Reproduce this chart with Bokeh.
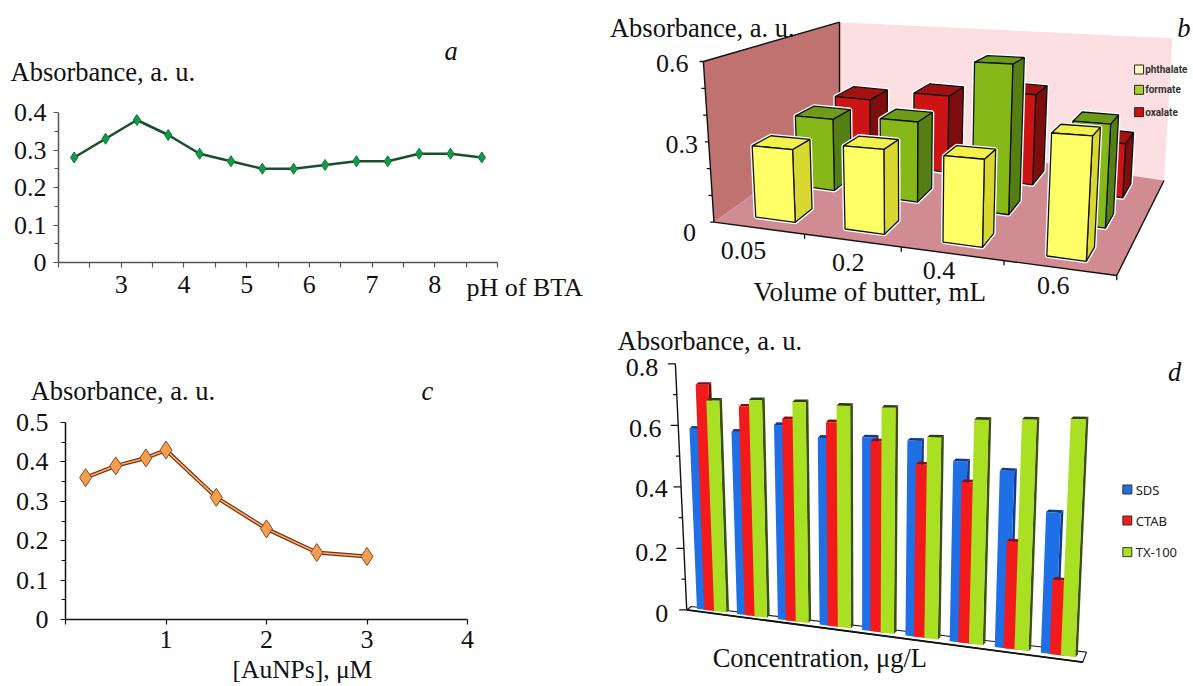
from bokeh.plotting import figure
from bokeh.layouts import column, row
from bokeh.models import Range1d, FixedTicker
from bokeh.core.properties import value
from bokeh.embed import file_html
from bokeh.resources import INLINE

SERIF = "Liberation Serif"

# ---------- data ----------
a_x = [2.25, 2.75, 3.25, 3.75, 4.25, 4.75, 5.25, 5.75, 6.25, 6.75, 7.25, 7.75, 8.25, 8.75]
a_y = [0.28, 0.33, 0.38, 0.34, 0.29, 0.27, 0.25, 0.25, 0.26, 0.27, 0.27, 0.29, 0.29, 0.28]
c_x = [0.2, 0.5, 0.8, 1, 1.5, 2, 2.5, 3]
c_y = [0.36, 0.39, 0.41, 0.43, 0.31, 0.23, 0.17, 0.16]

b_volumes = ["0.05", "0.2", "0.4", "0.6"]
b_phthalate = [0.27, 0.30, 0.296, 0.40]
b_formate = [0.297, 0.317, 0.565, 0.369]
b_oxalate = [0.29, 0.34, 0.378, 0.214]

d_sds = [0.586, 0.58, 0.604, 0.568, 0.573, 0.567, 0.512, 0.491, 0.383]
d_ctab = [0.729, 0.66, 0.623, 0.616, 0.562, 0.499, 0.454, 0.296, 0.201]
d_tx = [0.678, 0.681, 0.676, 0.666, 0.662, 0.578, 0.631, 0.634, 0.637]

TITLE = 26.5
TICK = 26


def txt(p, text, x, y, size, align="left", style="normal", font=SERIF, color="#111111"):
    p.text([x], [y], text=[text], text_font=value(font), text_font_size=f"{size}px",
           text_align=align, text_baseline="middle", text_font_style=style, text_color=color)


def line_panel(w, h, y_page, box, xb, yb, axis_color):
    """Frame fills the panel; ranges are chosen so the axes sit at box = (left, right, top, bottom) page pixels."""
    l, r, t, b = box
    kx = (xb[1] - xb[0]) / (r - l)
    ky = (yb[1] - yb[0]) / (b - t)
    xr = (xb[0] - l * kx, xb[0] + (w - l) * kx)
    yr = (yb[0] - (y_page + h - b) * ky, yb[0] + (b - y_page) * ky)
    p = figure(width=w, height=h, x_range=Range1d(*xr), y_range=Range1d(*yr), toolbar_location=None,
               output_backend="svg", min_border=0, outline_line_color=None,
               background_fill_color="white", border_fill_color="white", frame_align=False)
    p.grid.visible = False
    p.xaxis[0].fixed_location = yb[0]
    p.yaxis[0].fixed_location = xb[0]
    p.xaxis[0].bounds = xb
    p.yaxis[0].bounds = yb
    for ax in (p.xaxis[0], p.yaxis[0]):
        ax.axis_line_color = axis_color
        ax.axis_line_width = 1.5
        ax.major_tick_line_color = axis_color
        ax.minor_tick_line_color = axis_color
        ax.major_tick_line_width = 1.2
        ax.minor_tick_line_width = 1.2
        ax.major_tick_in = 0
        ax.minor_tick_in = 0
        ax.major_tick_out = 5
        ax.minor_tick_out = 4
        ax.major_label_text_font = SERIF
        ax.major_label_text_font_size = f"{TICK}px"
        ax.major_label_text_color = "#111111"

    def to_data(px, py):
        return xb[0] + (px - l) * kx, yb[0] + (b - py) * ky

    return p, to_data


def page_text(p, to_data, text, px, py, size=TITLE, style="normal"):
    x, y = to_data(px, py)
    txt(p, text, x, y, size, style=style)


# ---------- panel a ----------
pa, da = line_panel(600, 320, 0, (58, 497, 112, 262), (2, 9), (0, 0.4), "#555555")
pa.xaxis[0].ticker = FixedTicker(ticks=[3, 4, 5, 6, 7, 8],
                                 minor_ticks=[2, 2.5, 3.5, 4.5, 5.5, 6.5, 7.5, 8.5, 9])
pa.xaxis[0].major_tick_out = 5
pa.xaxis[0].minor_tick_out = 5
pa.xaxis[0].major_label_standoff = 8
pa.yaxis[0].ticker = FixedTicker(ticks=[0, 0.1, 0.2, 0.3, 0.4], minor_ticks=[0.05, 0.15, 0.25, 0.35])
pa.yaxis[0].major_label_overrides = {0: "0", 0.1: "0.1", 0.2: "0.2", 0.3: "0.3", 0.4: "0.4"}
pa.yaxis[0].major_label_standoff = 7
pa.line(a_x, a_y, line_color="#17502A", line_width=2.6)
pa.scatter(a_x, a_y, marker="diamond", size=11, fill_color="#129A45", line_color="#0F7A38", line_width=1)
page_text(pa, da, "Absorbance, a. u.", 10, 71)
page_text(pa, da, "a", 444, 50, style="italic")
page_text(pa, da, "pH of BTA", 466, 287, size=26)

# ---------- panel c ----------
pc, dc = line_panel(600, 366, 320, (65, 467, 422, 619), (0, 4), (0, 0.5), "#111111")
pc.xaxis[0].ticker = FixedTicker(ticks=[1, 2, 3, 4], minor_ticks=[0])
pc.xaxis[0].major_tick_out = 5
pc.xaxis[0].minor_tick_out = 5
pc.xaxis[0].major_label_standoff = 6
pc.xaxis[0].major_label_overrides = {1: "1", 2: "2", 3: "3", 4: "4"}
pc.yaxis[0].ticker = FixedTicker(ticks=[0, 0.1, 0.2, 0.3, 0.4, 0.5], minor_ticks=[0.05, 0.15, 0.25, 0.35, 0.45])
pc.yaxis[0].major_label_overrides = {0: "0", 0.1: "0.1", 0.2: "0.2", 0.3: "0.3", 0.4: "0.4", 0.5: "0.5"}
pc.yaxis[0].major_label_standoff = 12
pc.line(c_x, c_y, line_color="#7A2E0C", line_width=4)
pc.line(c_x, c_y, line_color="#F8B070", line_width=1.6)
pc.scatter(c_x, c_y, marker="diamond", size=18, fill_color="#F59D50", line_color="#8A4A22", line_width=1)
page_text(pc, dc, "Absorbance, a. u.", 30, 390)
page_text(pc, dc, "c", 421, 390, style="italic")
page_text(pc, dc, "[AuNPs], \u03bcM", 232, 669, size=25.5)


def canvas(w, h, xr, yr):
    p = figure(width=w, height=h, x_range=Range1d(*xr), y_range=Range1d(*yr), toolbar_location=None,
               output_backend="svg", min_border=0, outline_line_color=None, frame_align=False,
               x_axis_type=None, y_axis_type=None, background_fill_color="white", border_fill_color="white")
    p.grid.visible = False
    return p


# ---------- panel b: pseudo 3-D ----------
SX = 2.644
SY = 3.0
pb = canvas(593, 320, (0, 593 * SX), (320 * SY, 0))
FL, FR, BL, BR = (300, 665), (1365, 825), (632, 395), (1490, 540)
TFL, TFR, TBL, TBR = (272, 183), (1395, 235), (632, 65), (1512, 113)
VMAX_B = 0.6


def proj_b(u, w, v):
    f = [(1 - u) * (1 - w) * FL[k] + u * (1 - w) * FR[k] + (1 - u) * w * BL[k] + u * w * BR[k] for k in (0, 1)]
    t = [(1 - u) * (1 - w) * TFL[k] + u * (1 - w) * TFR[k] + (1 - u) * w * TBL[k] + u * w * TBR[k] for k in (0, 1)]
    r = v / VMAX_B
    return f[0] + (t[0] - f[0]) * r, f[1] + (t[1] - f[1]) * r


def poly(p, corners, fill, line=None, lw=1.0):
    p.patch([c[0] for c in corners], [c[1] for c in corners], fill_color=fill, line_color=line, line_width=lw)


poly(pb, [FL, BL, TBL, TFL], "#C07270")
poly(pb, [BL, BR, TBR, TBL], "#FBDFE2")
poly(pb, [FL, FR, BR, BL], "#D18B92")
for s, e in [(FL, FR), (FR, BR), (FL, TFL), (TFL, TBL), (BL, TBL)]:
    pb.line([s[0], e[0]], [s[1], e[1]], line_color="#111111", line_width=1.4)
for i in range(7):
    x, y = proj_b(0, 0, i * 0.1)
    pb.line([x - 10, x], [y, y], line_color="#111111", line_width=1.3)
for u in (0.225, 0.465, 0.72, 1.0):
    x, y = proj_b(u, 0, 0)
    pb.line([x, x], [y, y + 14], line_color="#111111", line_width=1.3)

B_U = [0.074, 0.30, 0.548, 0.811]
DU, DW = 0.10, 0.15
series_b = [
    (b_oxalate, 0.77, "#CC1414", "#7E0D0D", "#A31212"),
    (b_formate, 0.45, "#86B81A", "#557F14", "#6F9C18"),
    (b_phthalate, 0.10, "#FFFF66", "#D8D830", "#F2F24A"),
]
for vals, w, front, side, top in series_b:
    for u, v in zip(B_U, vals):
        fl0, fr0, br0 = proj_b(u, w, 0), proj_b(u + DU, w, 0), proj_b(u + DU, w + DW, 0)
        fl1, fr1, br1, bl1 = (proj_b(u, w, v), proj_b(u + DU, w, v),
                              proj_b(u + DU, w + DW, v), proj_b(u, w + DW, v))
        poly(pb, [fl0, fr0, br0, br1, bl1, fl1], "white", "white", 4)
        poly(pb, [fr0, br0, br1, fr1], side, "#111111", 1.3)
        poly(pb, [fl1, fr1, br1, bl1], top, "#111111", 1.3)
        poly(pb, [fl0, fr0, fr1, fl1], front, "#111111", 1.3)

txt(pb, "Absorbance, a. u.", 25, 82, TITLE)
txt(pb, "b", 1525, 82, TITLE, style="italic")
for t, (x, y) in zip(["0.6", "0.3", "0"], [(190, 190), (215, 432), (235, 695)]):
    txt(pb, t, x, y, TICK, align="center")
for t, (x, y) in zip(b_volumes, [(378, 750), (655, 785), (895, 810), (1197, 855)]):
    txt(pb, t, x, y, TICK, align="center")
txt(pb, "Volume of butter, mL", 712, 875, 27, align="center")
for name, col, y in [("phthalate", "#FFFFC0", 207), ("formate", "#A6D32A", 268), ("oxalate", "#CC1414", 335)]:
    pb.scatter([1424], [y], marker="square", size=9, fill_color=col, line_color="#222222", line_width=1)
    txt(pb, name, 1440, y, 10, font="Roboto", color="#333333", style="bold")

# ---------- panel d: pseudo 3-D ----------
pd_ = canvas(593, 366, (0, 593 * SX), (366 * SY, 0))
VMAX_D = 0.8
PITCH, BW = 0.1145, 0.0349
PERSP = 1.09


def proj_d(t, v):
    u = t / (PERSP - (PERSP - 1) * t)
    x0 = 255 + 1000 * u
    y0 = 865 + 145 * u
    xt = 228 + (1290 - 228) * u
    s = 922 + 198 * u
    return x0 + (xt - x0) * (v / VMAX_D), y0 - s * v


poly(pd_, [(228, 868), (1275, 1025), (1285, 995), (240, 858)], "white", "#222222", 1.2)
pd_.line([228, 1275], [868, 1025], line_color="#111111", line_width=1.8)
pd_.line([198, 228], [130, 868], line_color="#111111", line_width=1.4)
for i in range(9):
    r = i / 8
    x, y = 228 - 30 * r, 868 - 738 * r
    pd_.line([x - (20 if i % 2 == 0 else 10), x], [y, y], line_color="#111111", line_width=1.3)

series_d = [
    (d_sds, 0.0, "#1F6FE6", "#123C88", "#123C88"),
    (d_ctab, 0.19, "#F21A1A", "#6E0A0A", "#8A0E0E"),
    (d_tx, 0.43, "#A9E021", "#3B4F10", "#2E3E0C"),
]
for i in range(len(d_sds)):
    for vals, off, front, side, top in series_d:
        t0 = (i + off) * PITCH
        t1 = t0 + BW
        v = vals[i]
        a0, b0, a1, b1 = proj_d(t0, 0), proj_d(t1, 0), proj_d(t0, v), proj_d(t1, v)
        dx, dy = 7, -8
        poly(pd_, [b0, (b0[0] + dx, b0[1] + dy), (b1[0] + dx, b1[1] + dy), b1], side)
        poly(pd_, [a1, b1, (b1[0] + dx, b1[1] + dy), (a1[0] + dx, a1[1] + dy)], top)
        poly(pd_, [a0, b0, b1, a1], front)

txt(pd_, "Absorbance, a. u.", 45, 62, TITLE)
txt(pd_, "d", 1518, 155, TITLE, align="center", style="italic")
for t, (x, y) in zip(["0.8", "0.6", "0.4", "0.2", "0"],
                     [(110, 140), (118, 325), (135, 505), (135, 695), (162, 880)]):
    txt(pd_, t, x, y, TICK, align="center")
txt(pd_, "Concentration, \u03bcg/L", 580, 1012, 26.5, align="center")
for name, col, y in [("SDS", "#1F6FE6", 507), ("CTAB", "#F21A1A", 600), ("TX-100", "#A9E021", 695)]:
    pd_.scatter([1393], [y], marker="square", size=9, fill_color=col, line_color="#333333", line_width=1)
    txt(pd_, name, 1415, y, 13, font="Noto Sans", color="#222222")

layout = column(row(pa, pb), row(pc, pd_))
open("out.html", "w").write(file_html(layout, INLINE))
